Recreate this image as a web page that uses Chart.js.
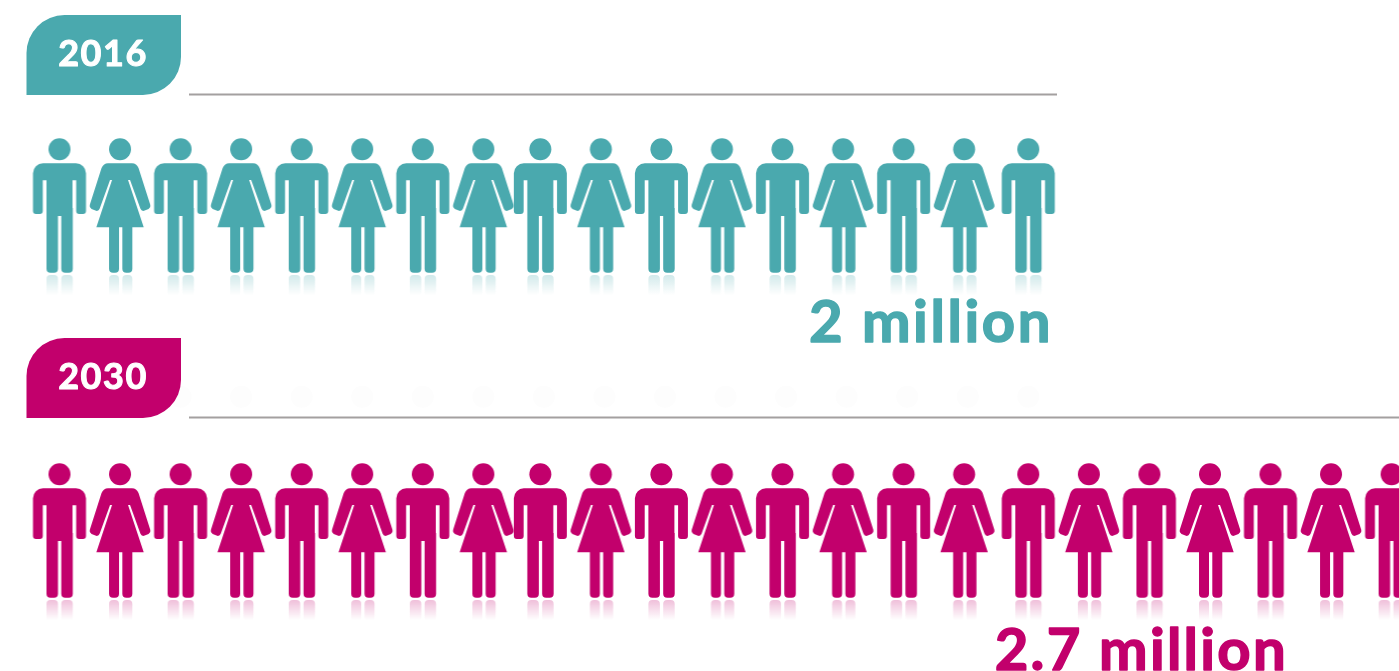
<!DOCTYPE html>
<html>
<head>
<meta charset="utf-8">
<title>People 2016 and 2030</title>
<script src="https://cdn.jsdelivr.net/npm/chart.js@4"></script>
<style>
html,body{margin:0;padding:0;background:#fff;overflow:hidden}
canvas{display:block}
</style>
</head>
<body>
<canvas id="chart" width="1399" height="671"></canvas>
<script>
// Data
const years = ["2016", "2030"];
const totals = ["2 million", "2.7 million"];
const people2016 = ["m","f","m","f","m","f","m","f","m","f","m","f","m","f","m","f","m"];
const people2030 = ["m","f","m","f","m","f","m","f","m","f","m","f","m","f","m","f","m","f","m","f","m","f","m"];

const colors = ["#4aa9ae", "#c2006c"];
const ruleColor = "#a3a0a0";

// one figure, drawn once per gender/colour, then used as a point style
function makeIcon(kind, color, dx){
  const c = document.createElement("canvas");
  c.width = 90;
  c.height = 170;
  const g = c.getContext("2d");
  g.translate(45 + dx, 5);
  g.fillStyle = color;

  g.beginPath();
  g.arc(0, 11.3, 11, 0, Math.PI*2);
  g.fill();

  if(kind === "m"){
    g.beginPath();
    g.roundRect(-26.5, 25.3, 53, 17, [10,10,0,0]);
    g.roundRect(-26.5, 40, 9.8, 36, [0,0,3,3]);
    g.roundRect(16.7, 40, 9.8, 36, [0,0,3,3]);
    g.rect(-13, 40, 26, 38);
    g.roundRect(-13, 70, 11.5, 64.7, [0,0,4,4]);
    g.roundRect(1.8, 70, 11.5, 64.7, [0,0,4,4]);
    g.fill();
  } else {
    g.beginPath();
    g.moveTo(-12, 25.3);
    g.lineTo(12, 25.3);
    g.quadraticCurveTo(16.5, 25.3, 18.5, 30);
    g.lineTo(30.3, 67);
    g.quadraticCurveTo(31, 69.5, 28.5, 71);
    g.lineTo(24, 72.8);
    g.quadraticCurveTo(21.5, 73.5, 20.3, 70.5);
    g.lineTo(10, 42);
    g.lineTo(8, 42);
    g.lineTo(23.7, 89.3);
    g.lineTo(-23.7, 89.3);
    g.lineTo(-8, 42);
    g.lineTo(-10, 42);
    g.lineTo(-20.3, 70.5);
    g.quadraticCurveTo(-21.5, 73.5, -24, 72.8);
    g.lineTo(-28.5, 71);
    g.quadraticCurveTo(-31, 69.5, -30.3, 67);
    g.lineTo(-18.5, 30);
    g.quadraticCurveTo(-16.5, 25.3, -12, 25.3);
    g.closePath();
    g.fill();
    g.beginPath();
    g.roundRect(-11, 85, 10, 49.7, [0,0,4,4]);
    g.roundRect(2.3, 85, 10, 49.7, [0,0,4,4]);
    g.fill();
  }

  // floor reflection under the legs
  const fade = g.createLinearGradient(0, 137, 0, 157);
  fade.addColorStop(0, color + "40");
  fade.addColorStop(1, color + "00");
  g.fillStyle = fade;
  const legs = kind === "m" ? [[-13,11.5],[1.8,11.5]] : [[-11,10],[2.3,10]];
  legs.forEach(l => {
    g.beginPath();
    g.roundRect(l[0], 137, l[1], 20, [4,4,0,0]);
    g.fill();
  });
  return c;
}

// the 9th to 16th figures sit a little left of the regular step in the reference
const icons = {};
function iconFor(kind, row, index){
  const dx = index >= 8 && index < 16 ? -3.6 : 0;
  const key = kind + row + dx;
  if(!icons[key]) icons[key] = makeIcon(kind, colors[row], dx);
  return icons[key];
}

function rowDataset(people, row){
  return {
    label: years[row],
    data: people.map((kind, i) => ({x: i, y: row, kind: kind})),
    pointRadius: 40,
    clip: false,
    pointStyle: ctx => ctx.raw ? iconFor(ctx.raw.kind, row, ctx.raw.x) : "circle"
  };
}

// barely visible ghost of the 2016 heads above the 2030 rule
const ghostRow = 0.55;
const ghostHeads = {
  label: "ghost",
  data: people2016.map((kind, i) => ({x: i, y: ghostRow})),
  pointRadius: 11,
  pointStyle: "circle",
  pointBackgroundColor: "#fdfdfd",
  pointBorderWidth: 0,
  clip: false
};

// tabs, rules and total labels
const headers = {
  id: "headers",
  afterDatasetsDraw(chart){
    const c = chart.ctx;
    const tabTop = [15, 338];
    const ruleY = [94.5, 417.5];
    const ruleEnd = [1057, 1399];
    const totalRight = [1053, 1288];
    const totalBase = [342, 670];
    const totalSpacing = ["2.6px", "2.3px"];

    years.forEach((year, row) => {
      c.save();
      c.fillStyle = colors[row];
      c.beginPath();
      c.roundRect(26.5, tabTop[row], 154.5, 80, [38,0,38,0]);
      c.fill();

      c.strokeStyle = ruleColor;
      c.lineWidth = 2;
      c.beginPath();
      c.moveTo(189, ruleY[row]);
      c.lineTo(ruleEnd[row], ruleY[row]);
      c.stroke();

      c.fillStyle = "#fff";
      c.strokeStyle = "#fff";
      c.lineWidth = 1;
      c.lineJoin = "round";
      c.font = "700 36px Lato";
      c.letterSpacing = "1.5px";
      c.textAlign = "center";
      c.textBaseline = "alphabetic";
      c.fillText(year, 103, tabTop[row] + 51);
      c.strokeText(year, 103, tabTop[row] + 51);

      c.fillStyle = colors[row];
      c.strokeStyle = colors[row];
      c.lineWidth = 1.5;
      c.font = "700 58px Lato";
      c.letterSpacing = totalSpacing[row];
      c.textAlign = "right";
      c.fillText(totals[row], totalRight[row], totalBase[row]);
      c.strokeText(totals[row], totalRight[row], totalBase[row]);
      c.restore();
    });
  }
};

new Chart(document.getElementById("chart"), {
  type: "scatter",
  data: {
    datasets: [ghostHeads, rowDataset(people2016, 0), rowDataset(people2030, 1)]
  },
  plugins: [headers],
  options: {
    responsive: false,
    animation: false,
    layout: {padding: 0, autoPadding: false},
    plugins: {legend: {display: false}, tooltip: {enabled: false}},
    events: [],
    scales: {
      x: {type: "linear", display: false, min: -59.5/60.55, max: (1399-59.5)/60.55},
      y: {type: "linear", display: false, reverse: true, min: -218/325, max: (671-218)/325}
    }
  }
});
</script>
</body>
</html>
